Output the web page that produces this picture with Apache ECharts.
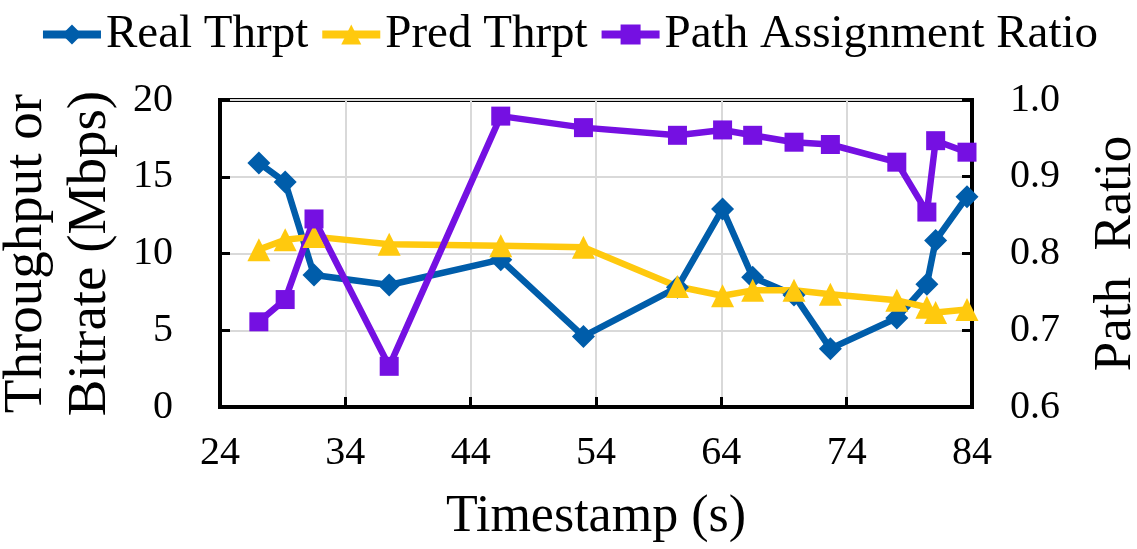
<!DOCTYPE html>
<html>
<head>
<meta charset="utf-8">
<script src="https://cdn.jsdelivr.net/npm/echarts@6/dist/echarts.min.js"></script>
<style>html,body{margin:0;padding:0;background:#fff}#c{width:1137px;height:549px}</style>
</head>
<body>
<div id="c"></div>
<script>
const timestamps = [27.1, 29.2, 31.5, 37.5, 46.4, 53.0, 60.5, 64.1, 66.5, 69.8, 72.7, 78.0, 80.4, 81.1, 83.6];
const realThrpt = [15.9, 14.65, 8.6, 7.95, 9.6, 4.6, 7.8, 12.9, 8.45, 7.3, 3.8, 5.8, 8.0, 10.85, 13.7];
const predThrpt = [10.25, 10.9, 11.1, 10.6, 10.5, 10.4, 7.85, 7.25, 7.6, 7.6, 7.35, 6.95, 6.5, 6.15, 6.35];
const pathRatio = [0.711, 0.740, 0.845, 0.653, 0.979, 0.964, 0.954, 0.961, 0.954, 0.945, 0.942, 0.919, 0.854, 0.947, 0.932];
const xTicks = [24, 34, 44, 54, 64, 74, 84];
const leftTicks = [0, 5, 10, 15, 20];
const rightTicks = [0.6, 0.7, 0.8, 0.9, 1.0];

const FONT = '"Liberation Serif", "Times New Roman", serif';
const pair = (xs, ys) => xs.map((x, i) => [x, ys[i]]);

const chart = echarts.init(document.getElementById('c'));
chart.setOption({
  animation: false,
  backgroundColor: '#fff',
  textStyle: { fontFamily: FONT, color: '#000' },
  legend: {
    top: 6, left: 'center',
    itemWidth: 58, itemHeight: 25, itemGap: 10,
    lineStyle: { width: 8 },
    textStyle: { fontFamily: FONT, fontSize: 47, color: '#000' },
    data: ['Real Thrpt', 'Pred Thrpt', 'Path Assignment Ratio']
  },
  grid: { left: 220, right: 165, top: 100, bottom: 142, containLabel: false, outerBoundsMode: 'none',
          show: true, borderColor: '#000', borderWidth: 4 },
  xAxis: {
    type: 'value', min: xTicks[0], max: xTicks[xTicks.length - 1], interval: 10,
    name: 'Timestamp (s)', nameLocation: 'middle', nameGap: 84,
    nameTextStyle: { fontFamily: FONT, fontSize: 52, color: '#000' },
    axisLine: { lineStyle: { color: '#000', width: 4 } },
    axisTick: { inside: true, length: 10, lineStyle: { color: '#000', width: 3 } },
    axisLabel: { fontFamily: FONT, fontSize: 40, color: '#000', margin: 26 },
    splitLine: { show: true, lineStyle: { color: '#d9d9d9', width: 2 } }
  },
  yAxis: [{
    type: 'value', min: leftTicks[0], max: leftTicks[leftTicks.length - 1], interval: 5,
    name: 'Throughput or\nBitrate (Mbps)', nameLocation: 'middle', nameGap: 92, nameRotate: 90,
    nameTextStyle: { fontFamily: FONT, fontSize: 55, color: '#000', lineHeight: 64 },
    axisLine: { show: true, lineStyle: { color: '#000', width: 4 } },
    axisTick: { show: true, inside: true, length: 10, lineStyle: { color: '#000', width: 3 } },
    axisLabel: { fontFamily: FONT, fontSize: 40, color: '#000', margin: 47 },
    splitLine: { show: true, lineStyle: { color: '#d9d9d9', width: 2 } }
  }, {
    type: 'value', min: rightTicks[0], max: rightTicks[rightTicks.length - 1], interval: 0.1,
    name: 'Path  Ratio', nameLocation: 'middle', nameGap: 118, nameRotate: 90,
    nameTextStyle: { fontFamily: FONT, fontSize: 53, color: '#000' },
    axisLine: { show: true, lineStyle: { color: '#000', width: 4 } },
    axisTick: { show: true, inside: true, length: 10, lineStyle: { color: '#000', width: 3 } },
    axisLabel: { fontFamily: FONT, fontSize: 40, color: '#000', margin: 38, formatter: v => v.toFixed(1) },
    splitLine: { show: false }
  }],
  series: [{
    name: 'Real Thrpt', type: 'line', yAxisIndex: 0,
    data: pair(timestamps, realThrpt),
    symbol: 'diamond', symbolSize: 23,
    lineStyle: { width: 6.5, color: '#005DAA' },
    itemStyle: { color: '#005DAA' }
  }, {
    name: 'Pred Thrpt', type: 'line', yAxisIndex: 0,
    data: pair(timestamps, predThrpt),
    symbol: 'triangle', symbolSize: 23,
    lineStyle: { width: 6.5, color: '#FFC90E' },
    itemStyle: { color: '#FFC90E' }
  }, {
    name: 'Path Assignment Ratio', type: 'line', yAxisIndex: 1,
    data: pair(timestamps, pathRatio),
    symbol: 'rect', symbolSize: 19,
    lineStyle: { width: 6.5, color: '#7510E2' },
    itemStyle: { color: '#7510E2' }
  }]
});
</script>
</body>
</html>
